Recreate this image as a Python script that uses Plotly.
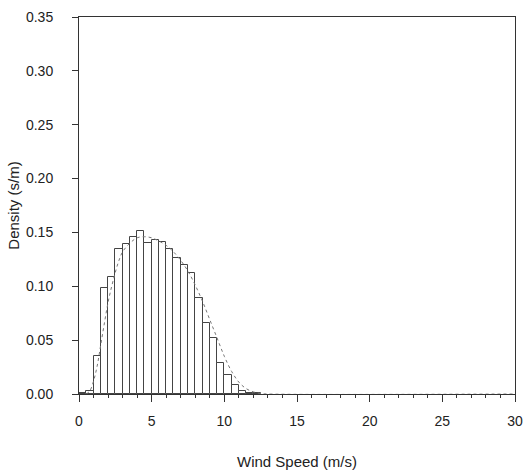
import plotly.graph_objects as go

# Histogram bins (m/s) and measured densities (s/m)
bin_centers = [0.25, 0.75, 1.25, 1.75, 2.25, 2.75, 3.25, 3.75, 4.25, 4.75,
               5.25, 5.75, 6.25, 6.75, 7.25, 7.75, 8.25, 8.75, 9.25, 9.75,
               10.25, 10.75, 11.25, 11.75, 12.25]
bin_density = [0.001, 0.003, 0.035, 0.098, 0.109, 0.135, 0.139, 0.146, 0.151, 0.140,
               0.143, 0.141, 0.135, 0.126, 0.120, 0.112, 0.089, 0.066, 0.052, 0.029,
               0.018, 0.008, 0.003, 0.001, 0.0005]
bin_width = 0.5

# Fitted density curve
curve_speed = [0.5, 0.75, 1.0, 1.25, 1.5, 1.75, 2.0, 2.25, 2.5, 2.75, 3.0, 3.5, 4.0,
               4.5, 5.0, 5.5, 6.0, 6.5, 7.0, 7.5, 8.0, 8.5, 9.0, 9.5, 10.0, 10.5,
               11.0, 11.5, 12.0, 12.5, 13.0, 30.0]
curve_density = [0.0, 0.003, 0.012, 0.026, 0.046, 0.066, 0.085, 0.100, 0.113, 0.124,
                 0.132, 0.140, 0.145, 0.146, 0.145, 0.142, 0.138, 0.132, 0.124, 0.114,
                 0.101, 0.086, 0.069, 0.052, 0.035, 0.021, 0.011, 0.005, 0.002, 0.0005,
                 0.0, 0.0]

x_ticks = [0, 5, 10, 15, 20, 25, 30]
y_ticks = [0.00, 0.05, 0.10, 0.15, 0.20, 0.25, 0.30, 0.35]

ink = "#333333"
tick_font = dict(family="Liberation Sans, Arial, sans-serif", size=14, color="#222222")
title_font = dict(family="Liberation Sans, Arial, sans-serif", size=15, color="#222222")

fig = go.Figure()
fig.add_trace(go.Bar(
    x=bin_centers, y=bin_density, width=[bin_width] * len(bin_centers),
    marker=dict(color="white", line=dict(color="#444444", width=1)),
    showlegend=False,
))
fig.add_trace(go.Scatter(
    x=curve_speed, y=curve_density, mode="lines",
    line=dict(color="#777777", width=1, dash="dot", shape="spline"),
    showlegend=False,
))

fig.update_layout(
    width=524, height=470,
    margin=dict(l=79, r=9, t=17, b=76, autoexpand=False),
    paper_bgcolor="white", plot_bgcolor="white",
    font=tick_font,
    bargap=0,
)
fig.update_xaxes(
    range=[0, 30], tickvals=x_ticks, ticktext=[str(v) for v in x_ticks],
    showgrid=False, zeroline=False, automargin=False,
    showline=True, linecolor=ink, linewidth=1, mirror=True,
    ticks="outside", ticklen=7, tickcolor=ink, tickwidth=1,
    ticklabelstandoff=7, tickfont=tick_font,
    minor=dict(dtick=1, ticks="outside", ticklen=3, tickcolor=ink, showgrid=False),
    title=dict(text="Wind Speed (m/s)", font=title_font, standoff=29),
)
fig.update_yaxes(
    range=[0, 0.35], tickvals=y_ticks, ticktext=[f"{v:.2f}" for v in y_ticks],
    showgrid=False, zeroline=False, automargin=False,
    showline=True, linecolor=ink, linewidth=1, mirror=True,
    ticks="outside", ticklen=6, tickcolor=ink, tickwidth=1,
    ticklabelstandoff=16, tickfont=tick_font,
    title=dict(text="Density (s/m)", font=title_font, standoff=2),
)

# Remove the default page margin so the figure fills the 524x470 window exactly
fig.write_html(
    "out.html",
    config={"displayModeBar": False},
    post_script="document.body.style.margin='0';document.body.style.overflow='hidden';",
)
